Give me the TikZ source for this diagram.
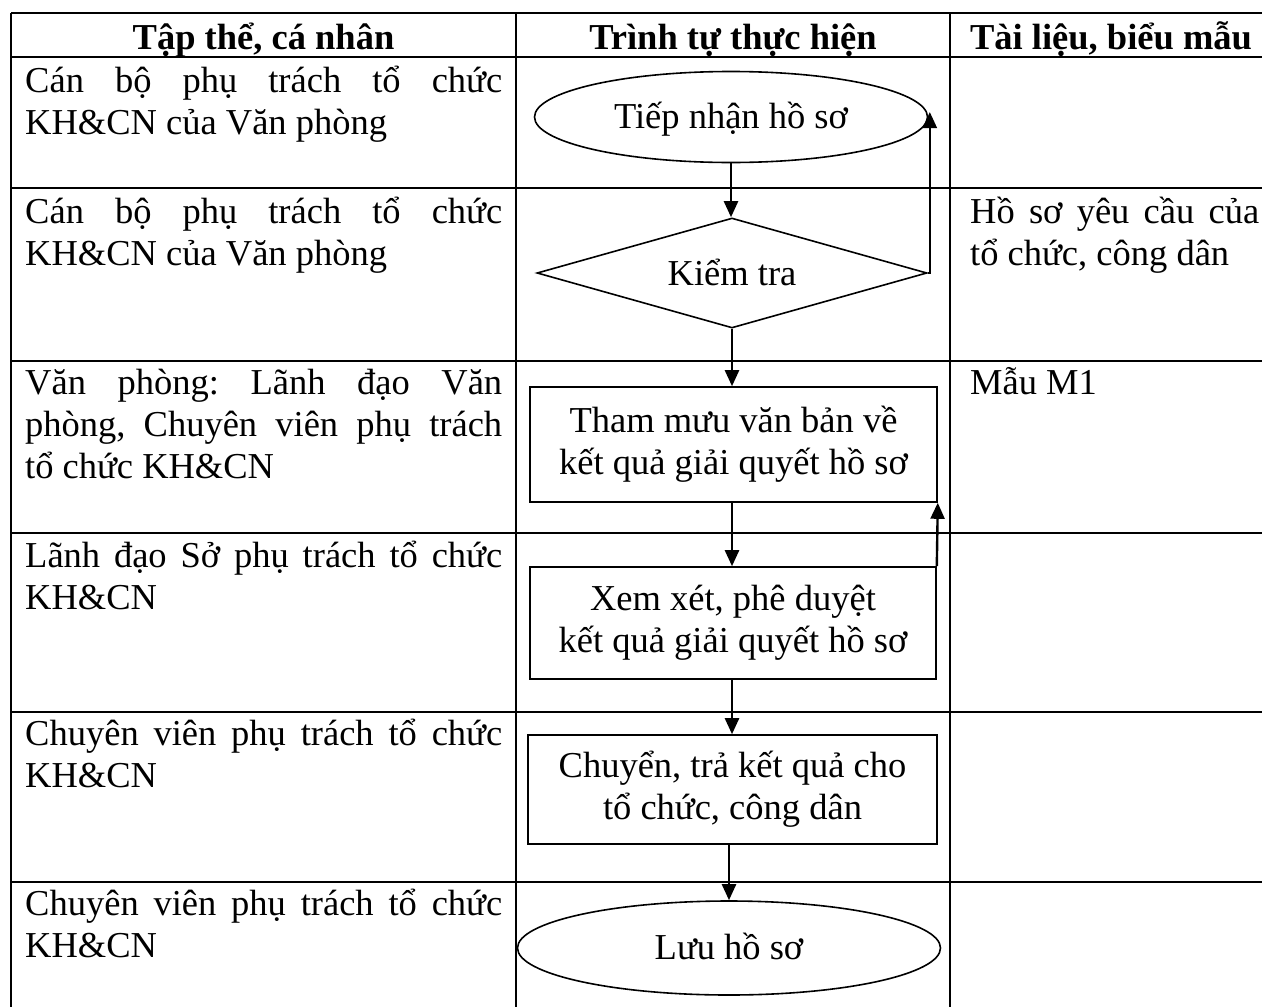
\documentclass[tikz,border=0pt]{standalone}
\usepackage{fontspec}
\setmainfont{Liberation Serif}
\usetikzlibrary{shapes.geometric,arrows.meta}
\tolerance=10000
\hyphenpenalty=10000
\frenchspacing
\begin{document}
\begin{tikzpicture}[x=1pt,y=-1pt,
  every node/.style={font=\fontsize{36.5}{42}\selectfont},
  grid/.style={line width=2.6pt},
  term/.style={ellipse,draw,line width=1.6pt,inner sep=0pt,text height=30pt,text depth=8pt},
  decision/.style={diamond,draw,line width=1.6pt,inner sep=0pt,shape aspect=3.5,text height=32pt,text depth=8pt},
  proc/.style={rectangle,draw,line width=1.6pt,inner sep=0pt,align=center},
  flow/.style={line width=2.4pt,-{Triangle[length=16pt,width=14pt]}},
  cell/.style={anchor=base west,inner sep=0pt,text width=477pt,align=justify},
  doc/.style={anchor=base west,inner sep=0pt,text width=289pt,align=justify},
  head/.style={anchor=base,inner sep=0pt,font=\fontsize{36.5}{42}\selectfont\bfseries}
]
\useasboundingbox (0,0) rectangle (1262,1007);

% table grid
\foreach \yy in {13,57,188,361,533,712,882}{
  \draw[grid] (11,\yy) -- (1262,\yy);
}
\foreach \xx in {11,516,950}{
  \draw[grid] (\xx,13) -- (\xx,1007);
}

% header
\node[head] (h1) at (263.5,49) {Tập thể, cá nhân};
\node[head] (h2) at (733,49) {Trình tự thực hiện};
\node[head] (h3) at (1111,49) {Tài liệu, biểu mẫu};

% left column
\node[cell] (c1) at (25,92) {Cán bộ phụ trách tổ chức\linebreak KH\&CN của Văn phòng};
\node[cell] (c2) at (25,223) {Cán bộ phụ trách tổ chức\linebreak KH\&CN của Văn phòng};
\node[cell] (c3) at (25,394) {Văn phòng: Lãnh đạo Văn\linebreak phòng, Chuyên viên phụ trách\linebreak tổ chức KH\&CN};
\node[cell] (c4) at (25,567) {Lãnh đạo Sở phụ trách tổ chức\linebreak KH\&CN};
\node[cell] (c5) at (25,745) {Chuyên viên phụ trách tổ chức\linebreak KH\&CN};
\node[cell] (c6) at (25,915) {Chuyên viên phụ trách tổ chức\linebreak KH\&CN};

% right column
\node[doc] (d2) at (970,223) {Hồ sơ yêu cầu của\linebreak tổ chức, công dân};
\node[doc] (d3) at (970,394) {Mẫu M1};

% flowchart
\node[term,minimum width=393pt,minimum height=91pt] (s1) at (731,117) {Tiếp nhận hồ sơ};
\node[decision,minimum width=390pt,minimum height=110pt] (s2) at (732,273) {Kiểm tra};
\node[proc,minimum width=407pt,minimum height=115pt] (s3) at (733.5,444.5) {Tham mưu văn bản về\\kết quả giải quyết hồ sơ};
\node[proc,minimum width=406pt,minimum height=112pt] (s4) at (733,623) {Xem xét, phê duyệt\\kết quả giải quyết hồ sơ};
\node[proc,minimum width=409pt,minimum height=109pt] (s5) at (732.5,789.5) {Chuyển, trả kết quả cho\\tổ chức, công dân};
\node[term,minimum width=423pt,minimum height=94pt] (s6) at (729,948) {Lưu hồ sơ};

\coordinate (back1) at ([shift={(1.5,-5)}]s1.east);
\draw[flow] (s1.south) -- (s1.south |- s2.north);
\draw[flow] (s2.east) -| (back1);
\draw[flow] (s2.south) -- (s2.south |- s3.north);
\draw[flow] (s3.south -| s2.south) -- (s2.south |- s4.north);
\draw[flow] (s4.north east) -- (s3.south east);
\draw[flow] (s4.south -| s2.south) -- (s2.south |- s5.north);
\draw[flow] (s5.south -| s6.north) -- (s6.north);
\end{tikzpicture}
\end{document}
